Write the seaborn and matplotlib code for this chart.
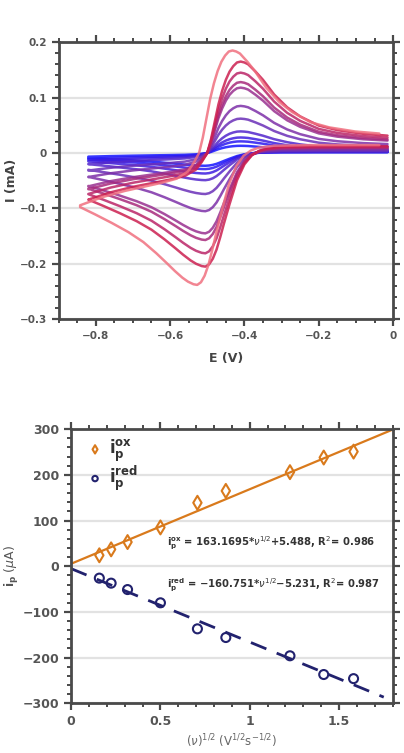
import matplotlib
matplotlib.use("Agg")
import matplotlib.pyplot as plt
import pandas as pd
import seaborn as sns
from matplotlib.ticker import MultipleLocator, FuncFormatter

# CV shape, current normalised to the peak of the branch
fwd_E = [-0.015, -0.1, -0.2, -0.3, -0.34, -0.36, -0.38, -0.40, -0.42, -0.44, -0.455, -0.465,
         -0.475, -0.485, -0.495, -0.505, -0.515, -0.53, -0.545, -0.565, -0.585, -0.615,
         -0.65, -0.69, -0.735, -0.78, -0.82]
fwd_shape = [0.06, 0.06, 0.06, 0.055, 0.04, 0.02, -0.02, -0.10, -0.24, -0.45, -0.62, -0.74,
             -0.85, -0.93, -0.98, -1.0, -0.995, -0.975, -0.945, -0.895, -0.84, -0.76,
             -0.675, -0.60, -0.53, -0.465, -0.41]
rev_E = [-0.82, -0.76, -0.70, -0.65, -0.60, -0.56, -0.53, -0.515, -0.50, -0.49, -0.48, -0.47,
         -0.46, -0.45, -0.44, -0.43, -0.42, -0.41, -0.40, -0.39, -0.37, -0.35, -0.32, -0.285,
         -0.25, -0.20, -0.15, -0.08, -0.015]
rev_shape = [-0.51, -0.43, -0.37, -0.33, -0.29, -0.25, -0.18, -0.10, 0.0, 0.15, 0.34, 0.53,
             0.68, 0.80, 0.89, 0.95, 0.99, 1.0, 0.99, 0.97, 0.89, 0.80, 0.64, 0.50,
             0.40, 0.30, 0.25, 0.21, 0.19]

# peak currents of each scan (mA), slowest to fastest
ipa_mA = [0.013, 0.021, 0.028, 0.039, 0.062, 0.085, 0.118, 0.128, 0.145, 0.165, 0.185]
ipc_mA = [0.023, 0.029, 0.037, 0.049, 0.074, 0.105, 0.145, 0.157, 0.181, 0.205, 0.238]
E_shift = [0, 0, 0, 0, 0, 0, 0, 0, 0, 0, -0.022]
scan_colors = ["#1414ff", "#2a18f0", "#3d1de0", "#5226cc", "#6a2fb8", "#7d30a8",
               "#993090", "#a82a7c", "#bb2568", "#cc1f50", "#f0707f"]

# peak current vs square root of scan rate
sqrt_v = [0.158, 0.224, 0.316, 0.5, 0.707, 0.866, 1.225, 1.414, 1.581]
ip_ox = [24, 37, 53, 85, 139, 165, 206, 238, 251]
ip_red = [-26, -37, -51, -80, -137, -156, -196, -237, -246]
fit_ox = (163.1695, 5.488)
fit_red = (-160.751, -5.231)
fit_x_ox = [0, 1.8]
fit_x_red = [0, 1.75]

orange = "#d97a1c"
navy = "#22226e"
grey = "#4a4a4a"

sns.set_theme(style="ticks", rc={
    "axes.edgecolor": grey, "axes.linewidth": 2.0,
    "xtick.color": grey, "ytick.color": grey,
    "xtick.major.width": 1.6, "ytick.major.width": 1.6,
    "xtick.minor.width": 1.4, "ytick.minor.width": 1.4,
    "xtick.major.size": 5, "ytick.major.size": 5,
    "xtick.minor.size": 3, "ytick.minor.size": 3,
    "mathtext.fontset": "dejavusans",
})
plt.rcParams["font.family"] = ["DejaVu Sans"]

rows = []
for k in range(len(ipa_mA)):
    for e, s in zip(fwd_E, fwd_shape):
        rows.append((k, e + E_shift[k], s * ipc_mA[k]))
    for e, s in zip(rev_E, rev_shape):
        rows.append((k, e + E_shift[k], s * ipa_mA[k]))
cv = pd.DataFrame(rows, columns=["scan", "E", "I"])

fig = plt.figure(figsize=(4.04, 7.53), dpi=100)
ax1 = fig.add_axes([0.145, 0.576, 0.828, 0.368])
ax2 = fig.add_axes([0.176, 0.066, 0.796, 0.364])


def fmt(v, pos):
    v = round(v, 6) + 0.0
    return f"{v:g}".replace("-", "\u2212")


def style_axis(ax, fs):
    ax.tick_params(which="both", direction="out", top=True, right=True,
                   labeltop=False, labelright=False, labelsize=fs, labelcolor="#555555")
    ax.yaxis.grid(True, color="#e2e2e2", lw=1.6)
    ax.xaxis.grid(False)
    ax.set_axisbelow(True)
    ax.xaxis.set_major_formatter(FuncFormatter(fmt))
    ax.yaxis.set_major_formatter(FuncFormatter(fmt))


# top: cyclic voltammograms
sns.lineplot(data=cv[::-1], x="E", y="I", hue="scan", units="scan", estimator=None,
             sort=False, palette=scan_colors, legend=False, lw=1.8, alpha=0.85, ax=ax1)
ax1.set_xlim(-0.9, 0)
ax1.set_ylim(-0.3, 0.2)
ax1.xaxis.set_major_locator(MultipleLocator(0.2))
ax1.xaxis.set_minor_locator(MultipleLocator(0.05))
ax1.yaxis.set_major_locator(MultipleLocator(0.1))
ax1.yaxis.set_minor_locator(MultipleLocator(0.02))
ax1.set_xlabel("E (V)", fontsize=9, fontweight="bold", color="#444444", labelpad=8)
ax1.set_ylabel("I (mA)", fontsize=9, fontweight="bold", color="#444444")
ax1.yaxis.set_label_coords(-0.121, 0.5)
style_axis(ax1, 7.5)
for lab in ax1.get_xticklabels() + ax1.get_yticklabels():
    lab.set_fontweight("bold")

# bottom: peak current vs sqrt(scan rate)
sns.lineplot(x=fit_x_ox, y=[fit_ox[0] * x + fit_ox[1] for x in fit_x_ox],
             color=orange, lw=1.6, ax=ax2)
sns.lineplot(x=fit_x_red, y=[fit_red[0] * x + fit_red[1] for x in fit_x_red],
             color=navy, lw=2.0, ax=ax2, linestyle=(0, (6, 4)))
sns.scatterplot(x=sqrt_v, y=ip_ox, marker="d", s=50, facecolor="none", edgecolor=orange,
                linewidth=1.5, label=r"$\mathbf{i_p^{ox}}$", ax=ax2, zorder=3)
sns.scatterplot(x=sqrt_v, y=ip_red, marker="o", s=42, facecolor="none", edgecolor=navy,
                linewidth=1.5, label=r"$\mathbf{i_p^{red}}$", ax=ax2, zorder=3)
ax2.set_xlim(0, 1.8)
ax2.set_ylim(-300, 300)
ax2.xaxis.set_major_locator(MultipleLocator(0.5))
ax2.xaxis.set_minor_locator(MultipleLocator(0.1))
ax2.yaxis.set_major_locator(MultipleLocator(100))
ax2.yaxis.set_minor_locator(MultipleLocator(20))
ax2.set_xlabel(r"$(\nu)^{1/2}$ (V$^{1/2}$s$^{-1/2}$)", fontsize=8.5, color="#666666", labelpad=3)
ax2.set_ylabel(r"$\mathbf{i_p}$ ($\mu$A)", fontsize=9, color="#555555")
ax2.yaxis.set_label_coords(-0.155, 0.5)
style_axis(ax2, 9)
for lab in ax2.get_xticklabels() + ax2.get_yticklabels():
    lab.set_fontweight("bold")

leg = ax2.legend(loc="upper left", bbox_to_anchor=(0.02, 1.0), frameon=False, fontsize=12,
                 handletextpad=0.3, handlelength=1.1, labelspacing=0.0, markerscale=0.6,
                 borderaxespad=0.1)
for t in leg.get_texts():
    t.set_color("#333333")

minus = "\u2212"
ax2.text(0.535, 50, r"$\mathbf{i_p^{ox}}$ = 163.1695*$\nu^{1/2}$+5.488, R$^2$= 0.986",
         fontsize=7.2, fontweight="bold", color="#333333", va="center")
ax2.text(0.535, -42, r"$\mathbf{i_p^{red}}$ = " + minus + r"160.751*$\nu^{1/2}$" + minus
         + r"5.231, R$^2$= 0.987",
         fontsize=7.2, fontweight="bold", color="#333333", va="center")

fig.savefig("out.png", dpi=100)
